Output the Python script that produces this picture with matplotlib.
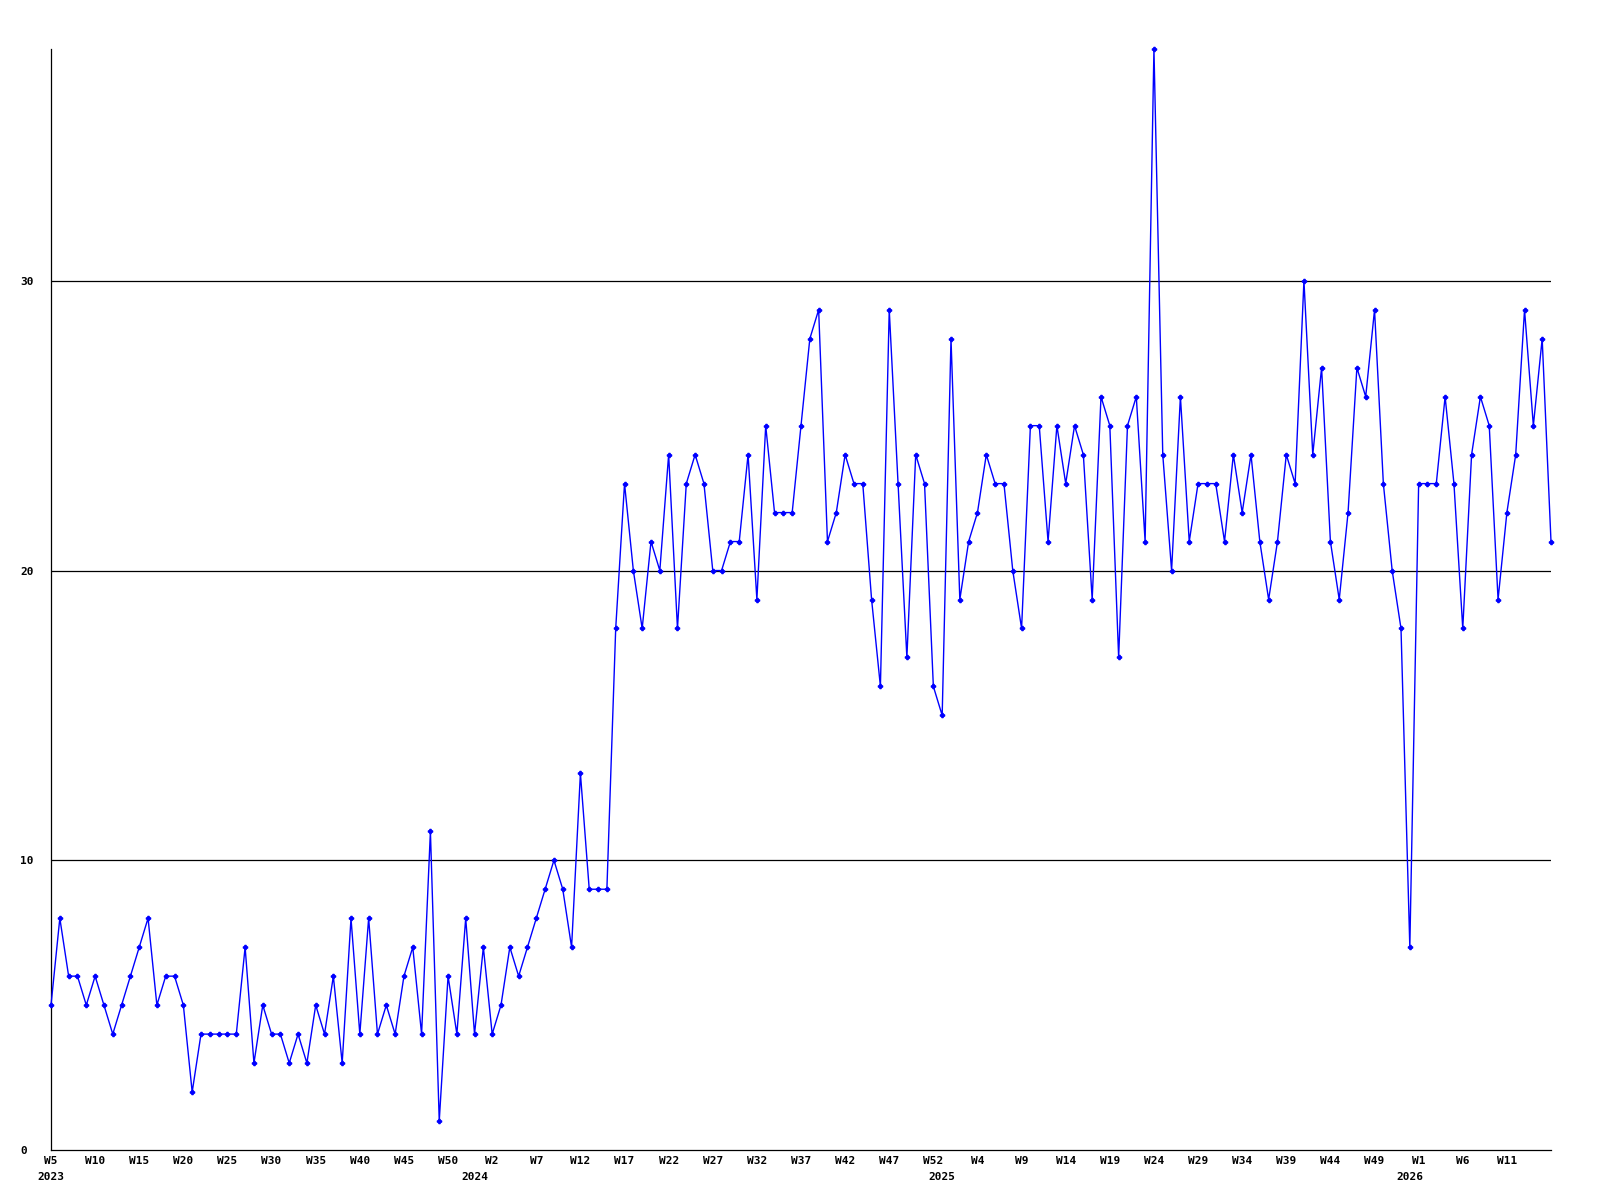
import numpy as np
import matplotlib.pyplot as plt

# weekly counts, one point per week starting 2023 W5
values = [5, 8, 6, 6, 5, 6, 5, 4, 5, 6, 7, 8, 5, 6, 6, 5, 2, 4, 4, 4, 4, 4, 7, 3, 5, 4, 4, 3, 4, 3, 5, 4, 6,
          3, 8, 4, 8, 4, 5, 4, 6, 7, 4, 11, 1, 6, 4, 8, 4, 7, 4, 5, 7, 6, 7, 8, 9, 10, 9, 7, 13, 9, 9, 9,
          18, 23, 20, 18, 21, 20, 24, 18, 23, 24, 23, 20, 20, 21, 21, 24, 19, 25, 22, 22, 22, 25, 28, 29,
          21, 22, 24, 23, 23, 19, 16, 29,
          23, 17, 24, 23, 16, 15, 28, 19, 21, 22, 24, 23, 23, 20, 18, 25, 25, 21, 25, 23, 25, 24, 19, 26,
          25, 17, 25, 26, 21, 38, 24, 20, 26,
          21, 23, 23, 23, 21, 24, 22, 24, 21, 19, 21, 24, 23, 30, 24, 27, 21, 19, 22, 27, 26, 29, 23, 20,
          18, 7, 23, 23, 23, 26, 23, 18, 24, 26, 25, 19, 22, 24, 29, 25, 28, 21]

# tick labels, one every 5 points
week_labels = ["W5", "W10", "W15", "W20", "W25", "W30", "W35", "W40", "W45", "W50",
               "W2", "W7", "W12", "W17", "W22", "W27", "W32", "W37", "W42", "W47", "W52",
               "W4", "W9", "W14", "W19", "W24", "W29", "W34", "W39", "W44", "W49",
               "W1", "W6", "W11"]
year_labels = ["2023", "2024", "2025", "2026"]
year_starts = [0, 48, 101, 154]   # first point of each year

x = np.arange(len(values))

fig = plt.figure(figsize=(16, 12), dpi=100)
ax = fig.add_axes([51 / 1600, 50 / 1200, 1500 / 1600, 1101 / 1200])

# horizontal grid lines
for g in [10, 20, 30]:
    ax.axhline(g, color="black", lw=0.9, zorder=1)

ax.plot(x, values, color="#0000ff", lw=1.0, marker="P", ms=3,
        clip_on=False, zorder=3)

ax.set_xlim(0, len(values) - 1)
ax.set_ylim(0, 38)

for side in ["top", "right"]:
    ax.spines[side].set_visible(False)
for side in ["left", "bottom"]:
    ax.spines[side].set_color("black")
    ax.spines[side].set_linewidth(0.9)

lab_font = dict(family="DejaVu Sans Mono", weight="bold", size=8)

ax.set_yticks([0, 10, 20, 30])
ax.set_yticklabels(["0", "10", "20", "30"], **lab_font)
for lab in ax.get_yticklabels():
    lab.set_horizontalalignment("left")
ax.tick_params(axis="y", length=0, pad=22)

# keep the 2023 label even though it sits on a major tick
ax.xaxis.remove_overlapping_locs = False
ax.set_xticks(x[::5][:len(week_labels)])
ax.set_xticklabels(week_labels, **lab_font)
ax.set_xticks(year_starts, minor=True)
ax.set_xticklabels(year_labels, minor=True, **lab_font)
ax.tick_params(axis="x", which="major", length=0, pad=4)
ax.tick_params(axis="x", which="minor", length=0, pad=16)

plt.savefig("out.png", dpi=100)
